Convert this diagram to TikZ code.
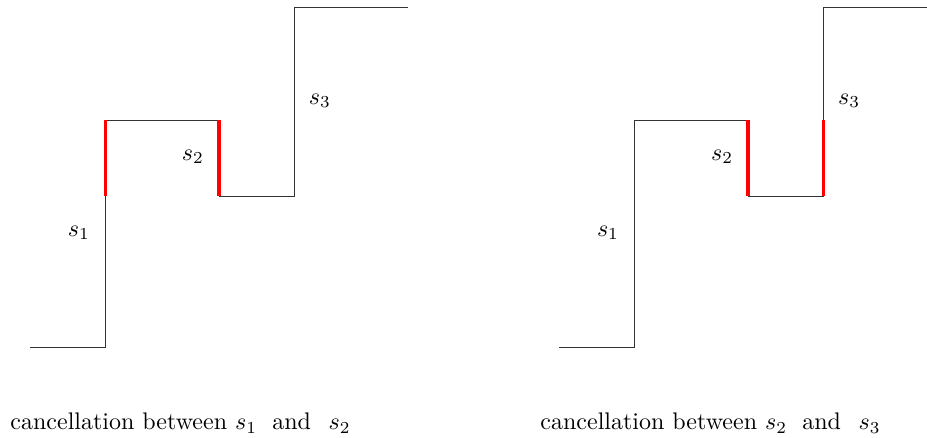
\documentclass[tikz,border=0pt]{standalone}
\begin{document}
\begin{tikzpicture}[x=0.4167pt,y=-0.4167pt,
  stair/.style={draw=black!80,line width=0.4pt},
  cancel/.style={draw=red,line width=1.35pt},
  lbl/.style={inner sep=0pt,font=\normalsize},
  captext/.style={inner sep=0pt,anchor=base west}]
\useasboundingbox (0,0) rectangle (927,438);
% left figure
\foreach \n/\x/\y in {a0/30/347,a1/105.5/347,a2/105.5/120,a3/219/120,a4/219/196,a5/294.5/196,a6/294.5/7,a7/408/7}
  \coordinate (\n) at (\x,\y);
\draw[stair] (a0) -- (a1) -- (a2) -- (a3) -- (a4) -- (a5) -- (a6) -- (a7);
\draw[cancel] (a2) -- (105.5,196);
\draw[cancel] (a3) -- (a4);
\node[lbl] (ls1) at (79,233) {$s_1$};
\node[lbl] (ls2) at (193,157) {$s_2$};
\node[lbl] (ls3) at (320,101) {$s_3$};
\node[captext] (lcap) at (10,430) {cancellation between $s_1$\hspace{3pt} and\hspace{4pt} $s_2$};
% right figure
\foreach \n/\x/\y in {b0/559/347,b1/634.5/347,b2/634.5/120,b3/748/120,b4/748/196,b5/823.5/196,b6/823.5/7,b7/927/7}
  \coordinate (\n) at (\x,\y);
\draw[stair] (b0) -- (b1) -- (b2) -- (b3) -- (b4) -- (b5) -- (b6) -- (b7);
\draw[cancel] (b3) -- (b4);
\draw[cancel] (b5) -- (823.5,120);
\node[lbl] (rs1) at (608,233) {$s_1$};
\node[lbl] (rs2) at (722,157) {$s_2$};
\node[lbl] (rs3) at (849,101) {$s_3$};
\node[captext] (rcap) at (540,430) {cancellation between $s_2$\hspace{3pt} and\hspace{4pt} $s_3$};
\end{tikzpicture}
\end{document}
